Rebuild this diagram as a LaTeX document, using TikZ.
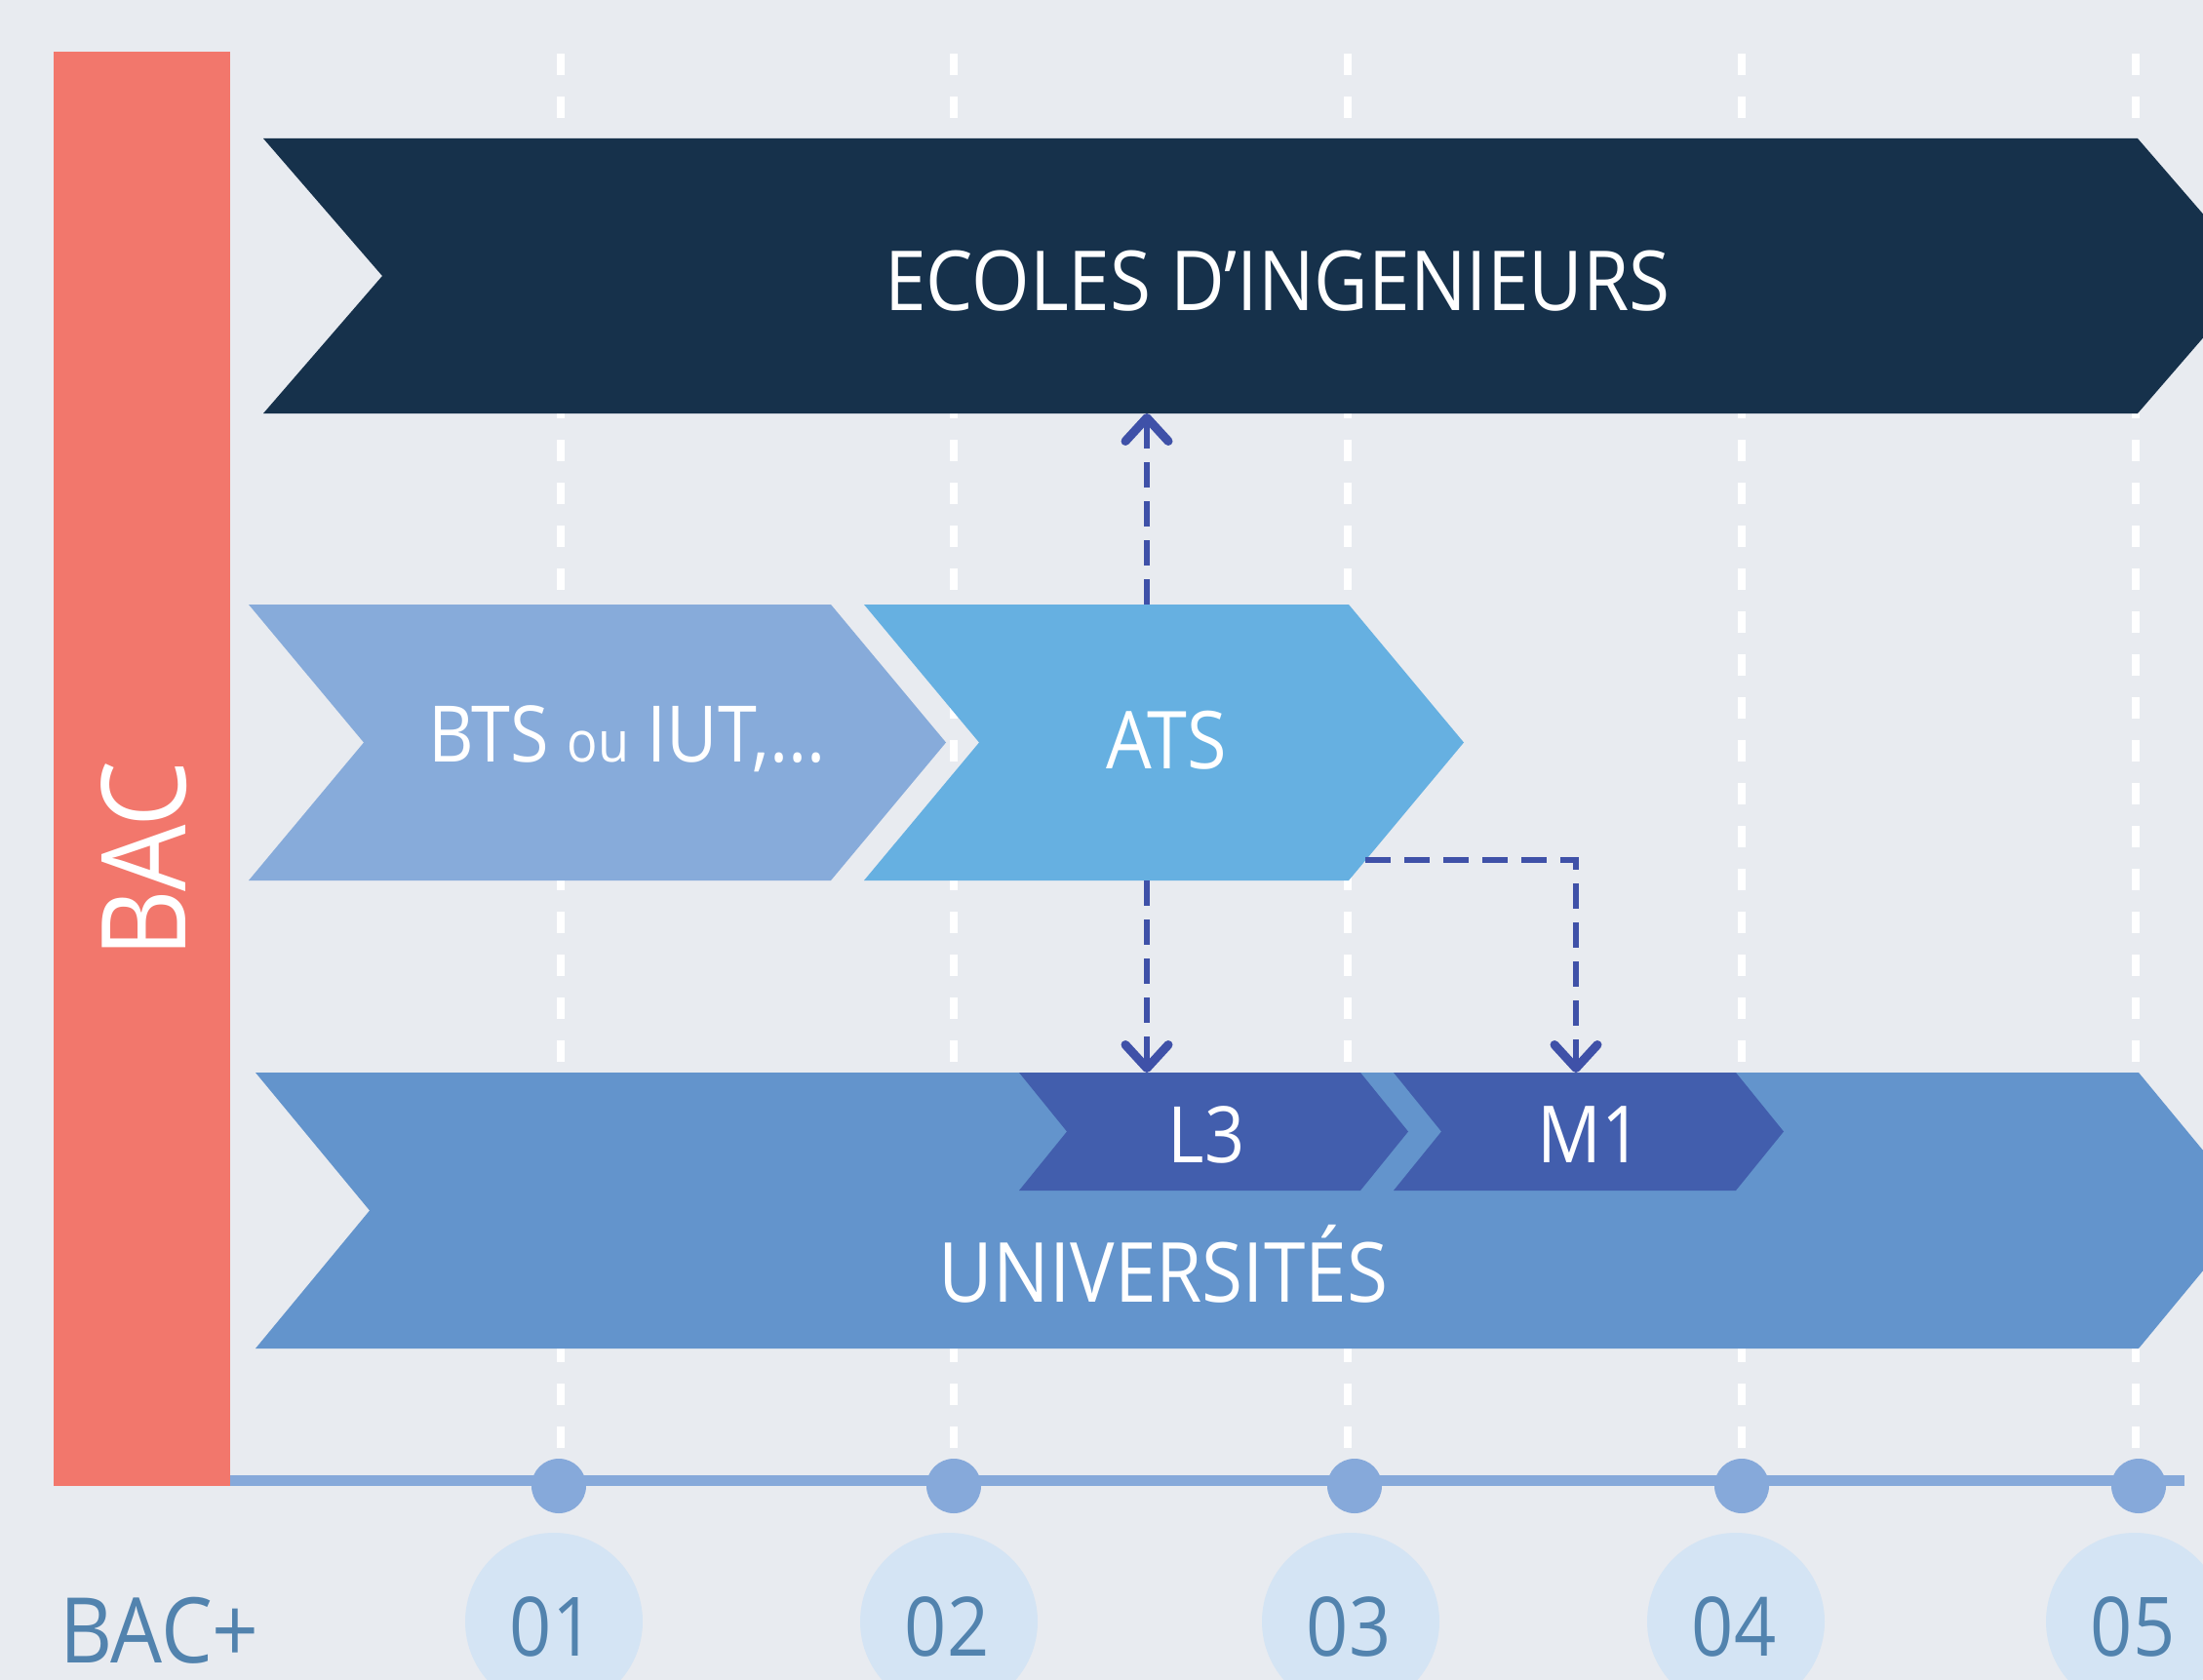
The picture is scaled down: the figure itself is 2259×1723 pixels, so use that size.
\documentclass[tikz,border=0pt]{standalone}
\usepackage{fontspec}
\setmainfont[FakeStretch=0.9]{Open Sans}
\usetikzlibrary{arrows.meta}
\definecolor{bg}{HTML}{E8EBF0}
\definecolor{bacred}{HTML}{F2776C}
\definecolor{navy}{HTML}{16314B}
\definecolor{btsblue}{HTML}{87ABDA}
\definecolor{atsblue}{HTML}{66B0E1}
\definecolor{univblue}{HTML}{6394CC}
\definecolor{lmblue}{HTML}{425EAD}
\definecolor{arrowblue}{HTML}{3F51A8}
\definecolor{axisblue}{HTML}{86A9DA}
\definecolor{circblue}{HTML}{D4E4F4}
\definecolor{numblue}{HTML}{5283AE}
% x1 x2 ytop ybot depth color
\newcommand\chevshape[6]{%
  \fill[#6] (#1,#3) -- (#2,#3) -- ({#2+#5},{(#3+#4)/2}) -- (#2,#4) -- (#1,#4) -- ({#1+#5},{(#3+#4)/2}) -- cycle;}
\tikzset{
  body/.style={inner sep=0pt, outer sep=0pt, draw=none},
  label text/.style={text=white, anchor=base, inner sep=0pt},
  guide/.style={white, line width=8pt, dash pattern=on 22pt off 22pt},
  conn/.style={arrowblue, line width=6pt, dash pattern=on 26pt off 14pt,
    -{Straight Barb[length=24pt,width=44pt,line width=9pt,round]}},
  axisline/.style={axisblue, line width=11pt},
  num/.style={text=numblue, anchor=base, inner sep=0pt, font=\fontsize{84}{88}\selectfont}
}
\begin{document}
\begin{tikzpicture}[x=1pt,y=-1pt]
\useasboundingbox (0,0) rectangle (2259,1723);
\clip (0,0) rectangle (2259,1723);
\fill[bg] (0,0) rectangle (2259,1723);

% guide lines
\foreach \gx in {575,978,1382,1786,2190}
  \draw[guide] (\gx,55) -- (\gx,1492);

% BAC bar
\fill[bacred] (55,53) rectangle (236,1524);
\node[label text, rotate=90, font=\fontsize{120}{124}\selectfont] (bac) at (190,881) {BAC};

% bands
\chevshape{270}{2192}{142}{424}{122}{navy}
\node[body, minimum width=1922, minimum height=282] (ecoles) at (1231,283) {};
\node[label text, font=\fontsize{85}{88}\selectfont] (ecolesT) at (1310,318) {ECOLES D’INGENIEURS};

\chevshape{255}{852}{620}{903}{118}{btsblue}
\node[body, minimum width=597, minimum height=283] (bts) at (553.5,761.5) {};
\node[label text, font=\fontsize{80}{84}\selectfont] (btsT) at (643,781) {BTS {\fontsize{58}{60}\selectfont ou} IUT,...};

\chevshape{886}{1383}{620}{903}{118}{atsblue}
\node[body, minimum width=497, minimum height=283] (ats) at (1134.5,761.5) {};
\node[label text, font=\fontsize{82}{84}\selectfont] (atsT) at (1196,788) {ATS};

\chevshape{262}{2193}{1100}{1383}{117}{univblue}
\node[body, minimum width=1931, minimum height=283] (univ) at (1227.5,1241.5) {};
\node[label text, font=\fontsize{85}{88}\selectfont] (univT) at (1193,1335) {UNIVERSITÉS};

\chevshape{1045}{1395}{1100}{1221}{49}{lmblue}
\node[body, minimum width=350, minimum height=121] (l3) at (1220,1160.5) {};
\node[label text, font=\fontsize{80}{82}\selectfont] (l3T) at (1237,1192) {L3};

\chevshape{1429}{1780}{1100}{1221}{49}{lmblue}
\node[body, minimum width=351, minimum height=121] (m1) at (1604.5,1160.5) {};
\node[label text, font=\fontsize{81}{82}\selectfont] (m1T) at (1630,1192) {M1};

% connectors
\coordinate (atsx) at ([xshift=41.5pt]ats.north);
\coordinate (atsout) at ([shift={(17,-21)}]ats.south east);
\coordinate (m1x) at ([xshift=11.5pt]m1.north);
\draw[conn] (atsx) -- (atsx |- ecoles.south);
\draw[conn] (atsx |- ats.south) -- (atsx |- l3.north);
\draw[conn] (atsout) -| (m1x);

% axis
\draw[axisline] (236,1518) -- (2240,1518);
\foreach \dx/\cx/\lab in {573/568/01,978/973/02,1389/1385/03,1786/1780/04,2193/2189/05}{
  \fill[axisblue] (\dx,1524) circle (28);
  \fill[circblue] (\cx,1663) circle (91);
  \node[num] (n\lab) at (\cx-2,1698) {\lab};
}
\node[num, font=\fontsize{93}{96}\selectfont, anchor=base west] (bacplus) at (61,1705) {BAC+};
\end{tikzpicture}
\end{document}
